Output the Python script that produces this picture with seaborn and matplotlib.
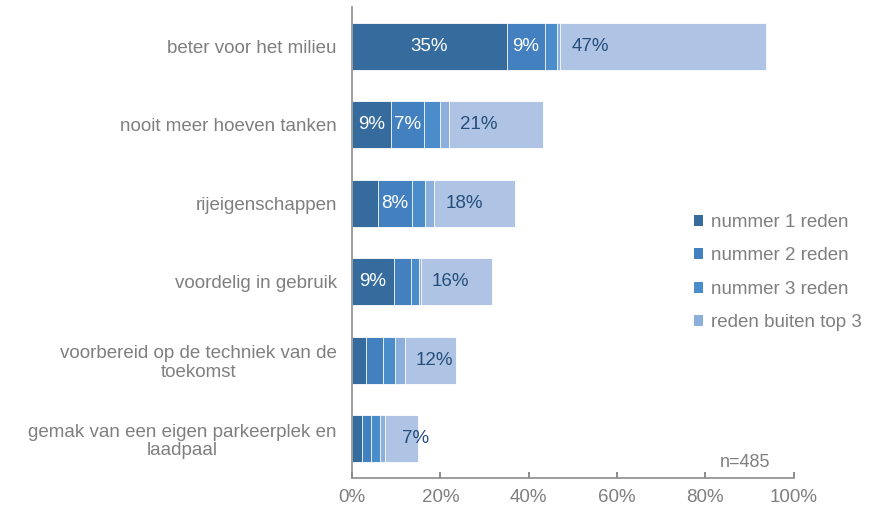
import pandas as pd
import seaborn as sns
import matplotlib.pyplot as plt
from matplotlib.patches import Patch

# categories and shares (%) per reason rank
categories = [
    "beter voor het milieu",
    "nooit meer hoeven tanken",
    "rijeigenschappen",
    "voordelig in gebruik",
    "voorbereid op de techniek van de\ntoekomst",
    "gemak van een eigen parkeerplek en\nlaadpaal",
]
nummer1 = [35.0, 8.9, 5.9, 9.4, 3.2, 2.3]
nummer2 = [8.7, 7.4, 7.6, 3.9, 3.9, 2.0]
nummer3 = [2.6, 3.5, 3.1, 1.9, 2.7, 2.1]
buiten_top3 = [0.8, 2.1, 2.0, 0.3, 2.1, 1.1]
overig = [46.6, 21.4, 18.4, 16.1, 11.7, 7.4]

series_names = ["nummer 1 reden", "nummer 2 reden", "nummer 3 reden", "reden buiten top 3", "overig"]
colors = ["#356b9d", "#4280bf", "#4b8cca", "#8dafdc", "#afc4e4"]
gray = "#7f7f7f"

df = pd.DataFrame({"categorie": categories,
                   "nummer 1 reden": nummer1,
                   "nummer 2 reden": nummer2,
                   "nummer 3 reden": nummer3,
                   "reden buiten top 3": buiten_top3,
                   "overig": overig})

# cumulative sums for stacking
cum = df[series_names].cumsum(axis=1)

sns.set_theme(style="white")
plt.rcParams["font.family"] = ["Liberation Sans", "DejaVu Sans"]

fig = plt.figure(figsize=(8.78, 5.13), dpi=100)
ax = fig.add_axes([0.401, 0.068, 0.503, 0.918])

# draw from the full bar down to the first segment so every layer shows
for name, col in reversed(list(zip(series_names, colors))):
    sns.barplot(x=cum[name], y=df["categorie"], color=col, orient="h", saturation=1,
                width=0.6, edgecolor="white", linewidth=0.6, ax=ax)

# segment labels
for i in range(len(categories)):
    left = 0
    for j, name in enumerate(series_names):
        v = df.loc[i, name]
        if v >= 6.5:
            if j == 4:
                ax.text(left + 6.8, i, f"{v:.0f}%", ha="center", va="center",
                        color="#264e7a", fontsize=13.5)
            else:
                ax.text(left + v / 2, i, f"{v:.0f}%", ha="center", va="center",
                        color="white", fontsize=13.5)
        left += v

ax.set_xlim(0, 100)
ax.set_ylim(5.5, -0.5)
ax.set_xticks(range(0, 101, 20))
ax.set_xticklabels([f"{t}%" for t in range(0, 101, 20)])
ax.set_xlabel("")
ax.set_ylabel("")
ax.tick_params(axis="x", direction="in", length=4, color=gray, labelcolor=gray,
               labelsize=13.5, pad=8, bottom=True)
ax.tick_params(axis="y", length=0, labelcolor=gray, labelsize=13.5, pad=11)
for lab in ax.get_yticklabels():
    lab.set_multialignment("center")
    lab.set_linespacing(1.1)

for side in ["top", "right"]:
    ax.spines[side].set_visible(False)
for side in ["left", "bottom"]:
    ax.spines[side].set_color("#8c8c8c")
    ax.spines[side].set_linewidth(1.2)

ax.text(0.889, 0.034, "n=485", transform=ax.transAxes, ha="center", va="center",
        color=gray, fontsize=13)

handles = [Patch(facecolor=c, edgecolor="none") for c in colors[:4]]
fig.legend(handles, series_names[:4], loc="upper left", bbox_to_anchor=(0.771, 0.616),
           frameon=False, fontsize=13.5, labelcolor=gray, handlelength=0.5,
           handleheight=0.5, handletextpad=0.4, labelspacing=0.88)

fig.savefig("out.png", dpi=100)
